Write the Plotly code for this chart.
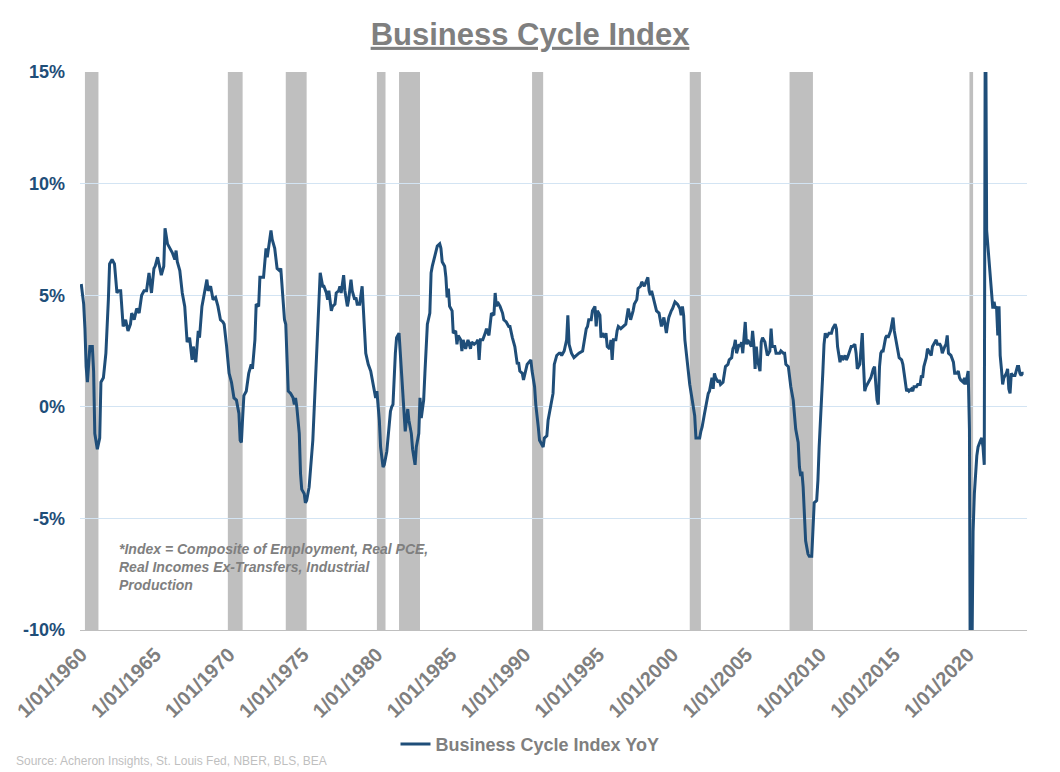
"""
Business Cycle Index - YoY con sombreado de recesiones NBER
"""

import plotly.graph_objects as go
import pandas as pd

# Serie mensual (YoY, en %)
months = [
    "1960-01", "1960-03", "1960-04", "1960-05", "1960-06", "1960-08", "1960-10", "1960-11", "1960-12",
    "1961-02", "1961-04", "1961-05", "1961-07", "1961-09", "1961-11", "1961-12",
    "1962-02", "1962-04", "1962-06", "1962-07", "1962-09", "1962-11",
    "1963-01", "1963-03", "1963-05", "1963-06", "1963-08", "1963-10", "1963-12",
    "1964-02", "1964-04", "1964-06", "1964-08", "1964-10", "1964-12",
    "1965-01", "1965-03", "1965-06", "1965-08", "1965-09", "1965-11",
    "1966-01", "1966-03", "1966-05", "1966-06", "1966-07", "1966-09", "1966-11",
    "1967-01", "1967-03", "1967-05", "1967-06", "1967-07", "1967-08", "1967-10", "1967-12",
    "1968-01", "1968-03", "1968-05", "1968-07", "1968-08", "1968-10", "1968-12",
    "1969-02", "1969-04", "1969-06", "1969-08", "1969-09", "1969-11",
    "1970-01", "1970-03", "1970-05", "1970-07", "1970-09", "1970-10", "1970-11", "1970-12",
    "1971-01", "1971-03", "1971-05", "1971-07", "1971-08", "1971-10", "1971-11",
    "1972-01", "1972-02", "1972-05", "1972-07", "1972-08", "1972-11", "1972-12",
    "1973-02", "1973-04", "1973-06", "1973-07", "1973-09", "1973-10", "1973-11", "1973-12",
    "1974-01", "1974-03", "1974-05", "1974-06", "1974-07", "1974-08", "1974-10", "1974-11", "1974-12",
    "1975-02", "1975-03", "1975-04", "1975-06", "1975-09", "1975-10", "1975-12",
    "1976-01", "1976-02", "1976-03", "1976-05", "1976-06", "1976-08", "1976-09", "1976-10", "1976-12",
    "1977-01", "1977-03", "1977-04", "1977-06", "1977-07", "1977-08", "1977-10", "1977-11",
    "1978-01", "1978-02", "1978-04", "1978-05", "1978-07", "1978-08", "1978-09", "1978-11",
    "1979-01", "1979-02", "1979-04", "1979-06", "1979-08", "1979-10", "1979-12",
    "1980-01", "1980-03", "1980-04", "1980-06", "1980-07", "1980-09", "1980-11", "1980-12",
    "1981-01", "1981-02", "1981-04", "1981-05", "1981-07", "1981-08", "1981-09", "1981-11", "1981-12",
    "1982-02", "1982-03", "1982-05", "1982-06", "1982-08", "1982-09", "1982-11", "1982-12",
    "1983-01", "1983-03", "1983-04", "1983-06", "1983-08", "1983-09", "1983-10", "1983-12",
    "1984-02", "1984-04", "1984-05", "1984-06", "1984-08", "1984-09", "1984-10", "1984-11", "1984-12",
    "1985-02", "1985-03", "1985-05", "1985-06", "1985-07", "1985-09", "1985-10", "1985-11",
    "1986-01", "1986-03", "1986-05", "1986-06", "1986-08", "1986-10", "1986-11", "1986-12",
    "1987-01", "1987-03", "1987-05", "1987-06", "1987-08", "1987-09", "1987-10", "1987-12",
    "1988-01", "1988-02", "1988-03", "1988-05", "1988-07", "1988-08", "1988-10", "1988-12",
    "1989-01", "1989-03", "1989-05", "1989-07", "1989-08", "1989-09", "1989-11", "1989-12",
    "1990-01", "1990-03", "1990-06", "1990-07", "1990-09", "1990-10", "1990-12",
    "1991-01", "1991-02", "1991-04", "1991-05", "1991-07", "1991-08", "1991-10", "1991-12",
    "1992-01", "1992-03", "1992-05", "1992-06", "1992-07", "1992-09", "1992-11", "1992-12",
    "1993-01", "1993-02", "1993-03", "1993-05", "1993-07", "1993-09", "1993-12",
    "1994-01", "1994-03", "1994-04", "1994-05", "1994-07", "1994-08", "1994-10", "1994-11", "1994-12",
    "1995-02", "1995-03", "1995-04", "1995-06", "1995-07", "1995-08", "1995-10", "1995-11", "1995-12",
    "1996-01", "1996-03", "1996-04", "1996-05", "1996-07", "1996-09", "1996-11",
    "1997-01", "1997-02", "1997-03", "1997-05", "1997-06", "1997-08", "1997-09", "1997-11", "1997-12",
    "1998-02", "1998-04", "1998-05", "1998-06", "1998-07", "1998-08", "1998-10", "1998-11", "1998-12",
    "1999-02", "1999-03", "1999-04", "1999-06", "1999-07", "1999-08", "1999-09", "1999-10", "1999-12",
    "2000-01", "2000-03", "2000-05", "2000-07", "2000-08", "2000-09", "2000-10", "2000-11",
    "2001-01", "2001-03", "2001-05", "2001-06", "2001-07", "2001-08", "2001-10", "2001-11", "2001-12",
    "2002-01", "2002-03", "2002-04", "2002-06", "2002-07", "2002-08", "2002-09", "2002-10", "2002-11", "2002-12",
    "2003-02", "2003-03", "2003-04", "2003-06", "2003-07", "2003-08", "2003-10", "2003-11",
    "2004-01", "2004-02", "2004-03", "2004-04", "2004-05", "2004-07", "2004-08", "2004-09", "2004-10", "2004-12",
    "2005-01", "2005-02", "2005-04", "2005-05", "2005-06", "2005-07", "2005-08", "2005-09", "2005-10", "2005-12",
    "2006-01", "2006-02", "2006-04", "2006-05", "2006-06", "2006-08", "2006-09", "2006-10", "2006-12",
    "2007-01", "2007-02", "2007-04", "2007-05", "2007-07", "2007-08", "2007-09", "2007-11", "2007-12",
    "2008-01", "2008-03", "2008-04", "2008-05", "2008-07", "2008-08", "2008-09", "2008-10", "2008-11", "2008-12",
    "2009-01", "2009-03", "2009-04", "2009-06", "2009-07", "2009-08", "2009-10", "2009-11", "2009-12",
    "2010-02", "2010-03", "2010-04", "2010-05", "2010-06", "2010-08", "2010-10", "2010-11",
    "2011-01", "2011-02", "2011-03", "2011-05", "2011-06", "2011-07", "2011-09", "2011-10", "2011-11",
    "2012-01", "2012-02", "2012-03", "2012-05", "2012-06", "2012-07", "2012-09", "2012-10", "2012-11", "2012-12",
    "2013-01", "2013-02", "2013-04", "2013-05", "2013-06", "2013-08", "2013-09", "2013-10", "2013-11", "2013-12",
    "2014-01", "2014-02", "2014-03", "2014-04", "2014-06", "2014-07", "2014-08", "2014-10", "2014-11", "2014-12",
    "2015-01", "2015-03", "2015-04", "2015-05", "2015-07", "2015-08", "2015-09", "2015-11", "2015-12",
    "2016-01", "2016-03", "2016-04", "2016-05", "2016-07", "2016-08", "2016-10", "2016-11", "2016-12",
    "2017-01", "2017-03", "2017-04", "2017-06", "2017-07", "2017-08", "2017-10", "2017-11", "2017-12",
    "2018-02", "2018-03", "2018-04", "2018-06", "2018-07", "2018-08", "2018-09", "2018-11", "2018-12",
    "2019-01", "2019-02", "2019-04", "2019-05", "2019-06", "2019-07", "2019-09", "2019-10", "2019-11", "2019-12",
    "2020-01", "2020-02", "2020-03", "2020-04", "2020-05", "2020-06", "2020-07", "2020-08", "2020-09", "2020-10", "2020-11", "2020-12",
    "2021-01", "2021-02", "2021-03", "2021-04", "2021-05", "2021-06", "2021-07", "2021-08", "2021-09", "2021-10", "2021-11", "2021-12",
    "2022-01", "2022-02", "2022-03", "2022-04", "2022-05", "2022-06", "2022-07", "2022-08", "2022-09", "2022-10", "2022-11", "2022-12",
    "2023-01", "2023-02", "2023-03", "2023-04", "2023-05", "2023-06", "2023-07", "2023-08", "2023-09", "2023-10",
]

yoy = [
    5.5, 4.6, 3.5, 1.8, 1.1, 2.7, 2.7, 1.6, -1.2,
    -1.9, -1.4, 1.1, 1.3, 2.4, 4.8, 6.4,
    6.6, 6.4, 5.1, 5.2, 5.2, 3.6,
    3.9, 3.4, 3.7, 4.2, 3.9, 4.4, 4.2,
    5.0, 5.2, 5.2, 6.0, 5.1, 6.2,
    6.3, 6.7, 5.9, 6.3, 8.0, 7.3,
    7.1, 6.9, 6.6, 7.0, 6.5, 6.1, 5.1,
    4.5, 2.9, 3.1, 2.6, 2.1, 2.7, 2.0, 3.4,
    3.1, 4.5, 5.1, 5.7, 5.2, 5.4, 4.8,
    4.9, 4.5, 3.9, 3.8, 3.7, 2.7,
    1.5, 1.1, 0.4, 0.3, -0.3, -1.5, -1.6, -0.5,
    0.5, 0.7, 1.5, 1.9, 1.7, 3.0, 4.6,
    4.5, 5.8, 5.8, 7.1, 6.7, 7.9, 7.5,
    7.1, 6.2, 6.1, 6.2, 4.6, 3.9, 3.7, 2.5,
    0.7, 0.6, 0.4, 0.1, 0.4, 0.0, -1.2, -3.0, -3.7,
    -3.9, -4.3, -4.2, -3.6, -1.5, -0.3, 2.2,
    3.3, 4.9, 6.0, 5.4, 5.4, 5.1, 4.8, 5.2, 4.3,
    4.5, 4.6, 5.1, 5.2, 5.4, 5.1, 5.9, 5.2,
    4.5, 4.8, 5.7, 5.2, 4.8, 4.9, 4.6, 4.6,
    5.4, 4.3, 2.4, 1.9, 1.6, 1.0, 0.4,
    0.7, -0.6, -1.8, -2.7, -2.6, -2.0, -0.8, -0.2,
    0.0, 0.1, 2.4, 3.1, 3.3, 2.4, 1.2, -0.3, -1.1,
    -0.1, -0.6, -1.2, -1.9, -2.6, -1.8, -1.2, 0.4,
    -0.5, 0.3, 1.5, 3.7, 4.2, 6.0, 6.3, 6.8,
    7.2, 7.3, 7.1, 6.5, 6.3, 5.8, 4.9, 5.3, 4.5,
    4.3, 3.3, 3.4, 2.8, 3.2, 3.0, 2.5, 3.0,
    2.6, 3.0, 2.6, 2.9, 2.8, 2.9, 3.0, 2.1,
    3.0, 3.0, 3.3, 3.5, 3.2, 3.9, 4.2, 4.1,
    5.1, 4.5, 4.7, 4.5, 4.2, 3.9, 3.8, 3.6,
    3.6, 3.1, 2.7, 1.9, 2.0, 1.6, 1.5, 1.2,
    1.4, 1.9, 2.1, 1.6, 0.9, 0.1, -0.9,
    -1.5, -1.6, -1.8, -1.4, -1.3, -0.6, 0.1, 0.6,
    1.9, 2.3, 2.4, 2.4, 2.3, 2.5, 3.0, 4.1,
    2.8, 2.6, 2.4, 2.2, 2.3, 2.4, 2.5,
    2.8, 3.5, 3.6, 3.9, 3.9, 4.3, 4.5, 3.6, 4.3,
    4.1, 3.1, 3.3, 3.1, 3.3, 2.7, 2.6, 3.0, 2.1,
    3.0, 3.0, 3.4, 3.6, 3.5, 3.6, 3.7,
    4.4, 4.2, 3.9, 4.3, 4.6, 4.8, 5.3, 5.4, 5.6,
    5.4, 5.7, 5.8, 5.2, 5.0, 5.2, 4.8, 4.5, 4.3,
    4.2, 3.8, 3.6, 4.0, 3.7, 3.3, 3.7, 4.0, 4.3,
    4.4, 4.7, 4.6, 4.4, 4.1, 4.5, 4.1, 3.0,
    1.9, 1.0, 0.3, -0.2, -0.4, -1.4, -1.4, -1.4, -1.1,
    -0.9, -0.3, 0.0, 0.6, 0.7, 1.1, 1.3, 0.8, 1.5, 1.3,
    1.1, 1.2, 1.0, 1.1, 1.5, 1.8, 1.9, 2.1,
    2.2, 2.6, 2.7, 3.0, 2.4, 2.8, 2.7, 2.9, 2.4, 3.8,
    2.8, 3.0, 2.8, 2.7, 3.4, 2.8, 1.7, 2.7, 2.1, 1.6,
    2.9, 3.1, 2.9, 2.5, 2.3, 2.5, 3.5, 2.7, 2.7,
    2.4, 2.4, 2.4, 2.5, 2.4, 2.4, 1.9, 1.8, 1.3,
    0.9, 0.3, -0.5, -1.0, -1.6, -2.7, -3.1, -2.9, -3.6, -4.9,
    -6.0, -6.6, -6.7, -6.7, -5.7, -4.3, -4.2, -3.3, -1.8,
    0.1, 1.5, 2.8, 3.3, 3.1, 3.3, 3.3, 3.5,
    3.7, 3.5, 2.7, 2.0, 2.3, 2.1, 2.3, 2.1, 2.2,
    2.5, 2.7, 2.7, 2.8, 2.4, 1.7, 1.9, 2.5, 3.3, 1.9,
    0.7, 0.9, 1.1, 1.2, 1.3, 1.7, 1.8, 1.0, 0.3, 0.1,
    1.8, 2.4, 2.5, 2.5, 3.1, 3.2, 3.1, 3.4, 3.7, 4.0,
    3.4, 2.8, 2.6, 2.2, 2.1, 1.9, 1.5, 0.7, 0.8,
    0.7, 0.8, 0.7, 0.9, 0.9, 1.0, 1.0, 1.4, 1.3,
    1.8, 2.2, 2.6, 2.4, 2.3, 2.7, 2.9, 3.0, 2.8,
    2.8, 2.7, 2.4, 2.7, 2.8, 3.2, 2.4, 2.3, 2.1,
    2.0, 1.5, 1.5, 1.6, 1.3, 1.2, 1.1, 1.3, 1.0, 1.3,
    1.6, -1.0, -17.5, -11.5, -5.6, -3.9, -3.0, -2.2, -1.8, -1.6, -1.5, -1.4,
    -1.8, -2.6, 20.5, 7.9, 7.2, 6.4, 5.8, 5.1, 4.4, 4.7, 4.4, 4.5,
    3.2, 4.5, 2.3, 1.7, 1.0, 1.3, 1.4, 1.5, 1.7, 0.8, 0.6, 1.5,
    1.4, 1.4, 1.4, 1.6, 1.8, 1.8, 1.5, 1.4, 1.5, 1.5,
]

# Recesiones NBER (pico -> valle)
rec_start = ["1960-04", "1969-12", "1973-11", "1980-01", "1981-07",
             "1990-07", "2001-03", "2007-12", "2020-02"]
rec_end = ["1961-02", "1970-11", "1975-03", "1980-07", "1982-11",
           "1991-03", "2001-11", "2009-06", "2020-04"]

# Eje Y
y_ticks = [-10, -5, 0, 5, 10, 15]
y_labels = ["-10%", "-5%", "0%", "5%", "10%", "15%"]

assert len(months) == len(yoy)

FONT = "Liberation Sans, Arial, sans-serif"
GRIS = "#7f7f7f"
AZUL = "#1f4e79"

fig = go.Figure()

fig.add_trace(go.Scatter(
    x=pd.to_datetime(months),
    y=yoy,
    mode="lines",
    name="Business Cycle Index YoY",
    line=dict(color=AZUL, width=3),
))

# Sombreado de recesiones
for ini, fin in zip(rec_start, rec_end):
    fig.add_shape(
        type="rect",
        xref="x", yref="paper",
        x0=pd.Timestamp(ini),
        x1=pd.Timestamp(fin) + pd.DateOffset(months=1),
        y0=0, y1=1,
        fillcolor="#bfbfbf",
        line=dict(width=0),
        layer="between",
    )

fig.add_annotation(
    xref="paper", yref="paper",
    x=0.039, y=0.163,
    xanchor="left", yanchor="top",
    align="left",
    showarrow=False,
    text="<i>*Index = Composite of Employment, Real PCE,<br>"
         "Real Incomes Ex-Transfers, Industrial<br>Production</i>",
    font=dict(family=FONT, size=14, color=GRIS, weight="bold"),
)

fig.add_annotation(
    xref="paper", yref="paper",
    x=-0.07, y=-0.235,
    xanchor="left", yanchor="middle",
    showarrow=False,
    text="Source: Acheron Insights, St. Louis Fed, NBER, BLS, BEA",
    font=dict(family=FONT, size=12, color="#bfbfbf"),
)

fig.update_layout(
    width=1060,
    height=772,
    margin=dict(l=80, r=33, t=72, b=142),
    plot_bgcolor="white",
    paper_bgcolor="white",
    title=dict(
        text="<u>Business Cycle Index</u>",
        x=0.5, xanchor="center",
        y=0.956, yanchor="middle",
        font=dict(family=FONT, size=31, color=GRIS, weight="bold"),
    ),
    showlegend=True,
    legend=dict(
        orientation="h",
        xref="container", x=0.5, xanchor="center",
        yref="container", y=0.036, yanchor="middle",
        font=dict(family=FONT, size=18, color=GRIS, weight="bold"),
    ),
    xaxis=dict(
        type="date",
        range=["1959-12-01", "2023-12-24"],
        tick0="1960-01-01",
        dtick="M60",
        tickformat="%-m/%d/%Y",
        tickangle=-45,
        automargin=False,
        showgrid=False,
        showline=True,
        linecolor="#bfbfbf",
        linewidth=1,
        ticks="",
        ticklabelstandoff=4,
        tickfont=dict(family=FONT, size=20, color=GRIS, weight="bold"),
    ),
    yaxis=dict(
        range=[-10, 15],
        tickvals=y_ticks,
        ticktext=y_labels,
        automargin=False,
        showgrid=True,
        gridcolor="#d3e4f3",
        gridwidth=1,
        zeroline=False,
        ticks="",
        ticklabelstandoff=14,
        tickfont=dict(family=FONT, size=18, color=AZUL, weight="bold"),
    ),
)

# quitar el margen por defecto del body para que el grafico quede en (0, 0)
fig.write_html(
    "out.html",
    config={"displayModeBar": False},
    post_script="document.body.style.margin = '0';",
)
